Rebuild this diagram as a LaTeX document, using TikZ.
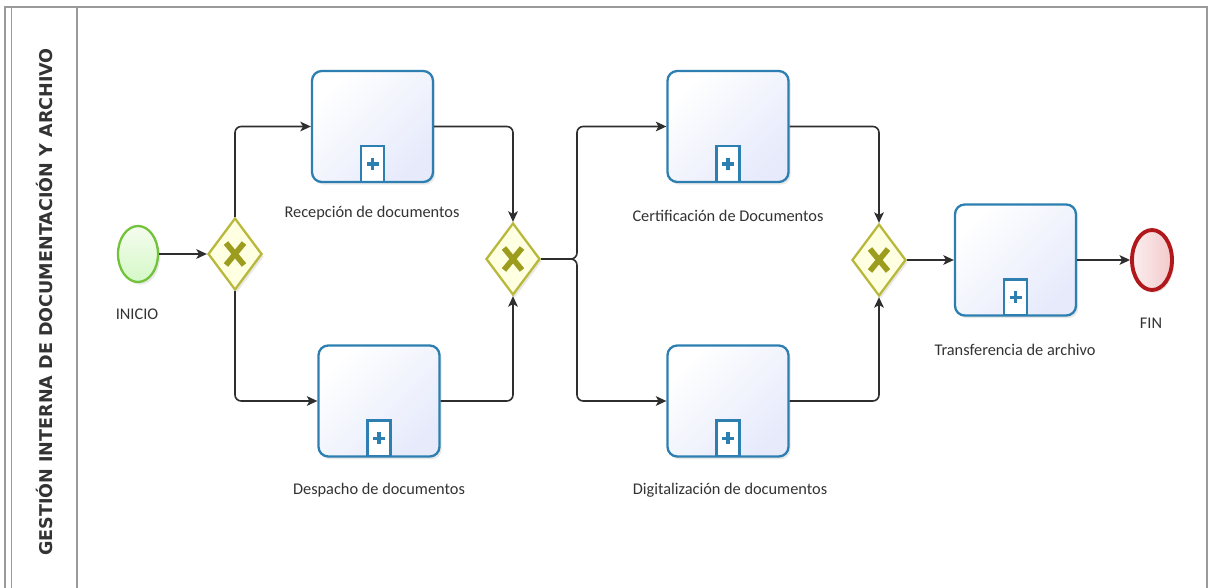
\documentclass[tikz,border=0pt]{standalone}
\usepackage{fontspec}
\setmainfont{Carlito}
\newfontfamily\hdrfont{DejaVu Sans}
\usetikzlibrary{shapes.geometric,arrows.meta,shadows}
\definecolor{frame}{HTML}{9A9A9A}
\definecolor{taskline}{HTML}{2C7FB0}
\definecolor{taskfill}{HTML}{E6EAFB}
\definecolor{gwline}{HTML}{B8B83A}
\definecolor{gwfill}{HTML}{FFFFE2}
\definecolor{gwx}{HTML}{9C9C1E}
\definecolor{startline}{HTML}{72C23A}
\definecolor{startfill}{HTML}{E6F7D6}
\definecolor{endline}{HTML}{B0181C}
\definecolor{endfill}{HTML}{F3C9CB}
\definecolor{txt}{HTML}{333333}
\definecolor{flowc}{HTML}{2E2E2E}
\tikzset{
  x=0.02cm, y=-0.02cm,
  shad/.style={drop shadow={opacity=0.18, shadow xshift=1.2pt, shadow yshift=-1.5pt}},
  taskbox/.style={rectangle, rounded corners=5.5pt, draw=taskline, line width=1.3pt,
    top color=white, bottom color=taskfill, shading angle=45,
    minimum width=2.42cm, minimum height=2.22cm, inner sep=0pt, shad,
    path picture={
      \draw[taskline, line width=1.6pt, fill=white, sharp corners]
        ([xshift=-0.23cm]path picture bounding box.south) rectangle ++(23,-36);
      \draw[taskline, line width=2pt, sharp corners]
        ([yshift=0.36cm]path picture bounding box.south) ++(-6,0) -- ++(12,0)
        ([yshift=0.36cm]path picture bounding box.south) ++(0,-6) -- ++(0,12);
    }},
  gateway/.style={diamond, draw=gwline, line width=1.3pt, fill=gwfill,
    minimum width=1.08cm, minimum height=1.44cm, inner sep=0pt, aspect=0.75, shad,
    path picture={
      \draw[gwx, line width=3.2pt]
        (path picture bounding box.center) ++(-9,-11) -- ++(18,22)
        (path picture bounding box.center) ++(-9,11) -- ++(18,-22);
    }},
  startev/.style={ellipse, draw=startline, line width=1.3pt,
    top color=white!60!startfill, bottom color=startfill!90!green!90!white,
    minimum width=0.8cm, minimum height=1.12cm, inner sep=0pt, shad},
  endev/.style={ellipse, draw=endline, line width=2.2pt,
    left color=white!70!endfill, right color=endfill,
    minimum width=0.8cm, minimum height=1.2cm, inner sep=0pt, shad},
  lbl/.style={text=txt, font=\fontsize{9.3}{11}\selectfont, inner sep=0pt},
  flow/.style={draw=flowc, line width=0.9pt, rounded corners=3.5pt,
    -{Stealth[length=6pt, width=5.5pt, inset=1.5pt]}},
  framel/.style={draw=frame, line width=0.9pt},
}
\begin{document}
\begin{tikzpicture}
\useasboundingbox (0,0) rectangle (1211,588);
\fill[white] (0,0) rectangle (1211,588);
% frame
\draw[framel] (5,588) -- (5,7) -- (1207,7) -- (1207,588);
\draw[framel] (11.5,588) -- (11.5,7);
\draw[framel] (77,588) -- (77,7);
\node[rotate=90, text=txt, font=\hdrfont\bfseries\fontsize{10}{11}\selectfont, inner sep=0pt] (hdr) at (44,302) {GESTIÓN INTERNA DE DOCUMENTACIÓN Y ARCHIVO};
% nodes
\node[startev] (s) at (138,254) {};
\node[lbl] (sl) at (137,314) {INICIO};
\node[gateway] (g1) at (235,254) {};
\node[taskbox] (t1) at (372.5,126.5) {};
\node[lbl] (t1l) at (372,213) {Recepción de documentos};
\node[taskbox] (t2) at (379,401) {};
\node[lbl] (t2l) at (379,490) {Despacho de documentos};
\node[gateway] (g2) at (513,259) {};
\coordinate (j) at (577,259);
\node[taskbox] (t3) at (728,126.5) {};
\node[lbl] (t3l) at (728,216) {Certificación de Documentos};
\node[taskbox] (t4) at (728,401) {};
\node[lbl] (t4l) at (730,490) {Digitalización de documentos};
\node[gateway] (g3) at (879,260) {};
\node[taskbox] (t5) at (1015.5,260) {};
\node[lbl] (t5l) at (1015,350) {Transferencia de archivo};
\node[endev] (e) at (1152,260) {};
\node[lbl] (el) at (1151,323) {FIN};
% flows
\draw[flow] (s.east) -- (g1.west);
\draw[flow] (g1.north) |- (t1.west);
\draw[flow] (g1.south) |- (t2.west);
\draw[flow] (t1.east) -| (g2.north);
\draw[flow] (t2.east) -| (g2.south);
\draw[flow] (g2.east) -- (j) |- (t3.west);
\draw[flow] (g2.east) -- (j) |- (t4.west);
\draw[flow] (t3.east) -| (g3.north);
\draw[flow] (t4.east) -| (g3.south);
\draw[flow] (g3.east) -- (t5.west);
\draw[flow] (t5.east) -- (e.west);
\end{tikzpicture}
\end{document}
